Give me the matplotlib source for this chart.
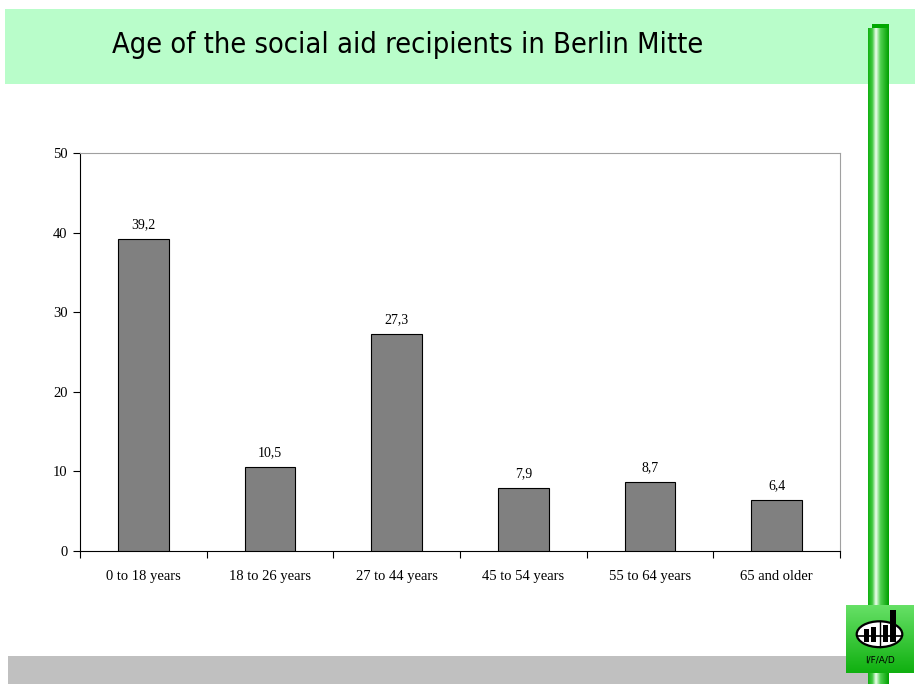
import matplotlib
matplotlib.use("Agg")
import matplotlib.pyplot as plt
from matplotlib.patches import Rectangle, Ellipse
from matplotlib.colors import LinearSegmentedColormap
import numpy as np

categories = ["0 to 18 years", "18 to 26 years", "27 to 44 years",
              "45 to 54 years", "55 to 64 years", "65 and older"]
values = [39.2, 10.5, 27.3, 7.9, 8.7, 6.4]
value_labels = ["39,2", "10,5", "27,3", "7,9", "8,7", "6,4"]
yticks = [0, 10, 20, 30, 40, 50]
title = "Age of the social aid recipients in Berlin Mitte"

W, H = 915, 684
fig = plt.figure(figsize=(W / 100, H / 100), dpi=100)
fig.patch.set_facecolor("white")

def fx(x): return x / W
def fy(y): return 1 - y / H

def box(x0, y0, x1, y1):
    return [fx(x0), fy(y1), (x1 - x0) / W, (y1 - y0) / H]

# title band
fig.patches.append(Rectangle((fx(5), fy(84)), (915 - 5) / W, (84 - 9) / H,
                             transform=fig.transFigure, facecolor="#b9fdca",
                             edgecolor="none", zorder=0))
fig.text(fx(112), fy(45), title, fontsize=20.8, family="DejaVu Sans",
         fontstretch="condensed",
         va="center", ha="left", color="black")

# bottom gray band
fig.patches.append(Rectangle((fx(8), fy(684)), (870 - 8) / W, (684 - 656) / H,
                             transform=fig.transFigure, facecolor="#c0c0c0",
                             edgecolor="none", zorder=0))

# vertical green bar with gradient
fig.patches.append(Rectangle((fx(872), fy(30)), (889 - 872) / W, (30 - 24) / H,
                             transform=fig.transFigure, facecolor="#00a800",
                             edgecolor="none", zorder=1))
bar_cmap = LinearSegmentedColormap.from_list(
    "g", [(0, "#10b010"), (0.2, "#40c840"), (0.38, "#f0fff0"), (0.6, "#50d050"), (1, "#00a000")])
gax = fig.add_axes(box(868, 28, 889, 684))
gax.imshow(np.linspace(0, 1, 64)[None, :], cmap=bar_cmap, aspect="auto",
           extent=[0, 1, 0, 1])
gax.set_axis_off()
gax.set_zorder(5)

# logo
lax = fig.add_axes(box(846, 605, 913, 673))
lax.set_zorder(6)
logo_cmap = LinearSegmentedColormap.from_list("l", ["#66e066", "#10b010"])
lax.imshow(np.linspace(0, 1, 64)[:, None], cmap=logo_cmap, aspect="auto",
           extent=[0, 1, 0, 1])
lax.set_xlim(0, 1)
lax.set_ylim(0, 1)
lax.set_axis_off()
lax.add_patch(Ellipse((0.5, 0.57), 0.68, 0.38, facecolor="white",
                      edgecolor="black", lw=1.6, zorder=3))
lax.plot([0.5, 0.5], [0.38, 0.76], color="black", lw=1, zorder=4)
lax.plot([0.17, 0.83], [0.55, 0.55], color="black", lw=1.2, zorder=4)
for bx, top in [(0.31, 0.64), (0.41, 0.68), (0.59, 0.70), (0.70, 0.93)]:
    lax.add_patch(Rectangle((bx - 0.04, 0.45), 0.08, top - 0.45,
                            facecolor="black", edgecolor="none", zorder=5))
lax.text(0.5, 0.19, "I/F/A/D", fontsize=6.5, ha="center", va="center",
         family="DejaVu Sans", zorder=6)

# chart axes
ax = fig.add_axes(box(80, 153, 840, 551))
x = np.arange(len(categories))
ax.bar(x, values, width=0.4, color="#808080", edgecolor="black", linewidth=0.8, zorder=3)
for xi, v, lab in zip(x, values, value_labels):
    ax.text(xi, v + 1.0, lab, ha="center", va="bottom", fontsize=10,
            family="Liberation Serif")
ax.set_xlim(-0.5, len(categories) - 0.5)
ax.set_ylim(0, 50)
ax.set_yticks(yticks)
ax.set_yticklabels([str(t) for t in yticks], fontsize=10.5, family="Liberation Serif")
ax.set_xticks(np.arange(-0.5, len(categories), 1.0))
ax.set_xticklabels([])
ax.set_xticks(x, minor=True)
ax.set_xticklabels(categories, minor=True, fontsize=10.5, family="Liberation Serif")
ax.tick_params(axis="x", which="minor", length=0, pad=14)
ax.tick_params(axis="x", which="major", direction="out", length=5, width=0.8)
ax.tick_params(axis="y", direction="out", length=5, width=0.8, pad=4)
for s in ["top", "right"]:
    ax.spines[s].set_color("#a0a0a0")
    ax.spines[s].set_linewidth(0.8)
for s in ["left", "bottom"]:
    ax.spines[s].set_color("black")
    ax.spines[s].set_linewidth(0.8)

fig.savefig("out.png", dpi=100)
